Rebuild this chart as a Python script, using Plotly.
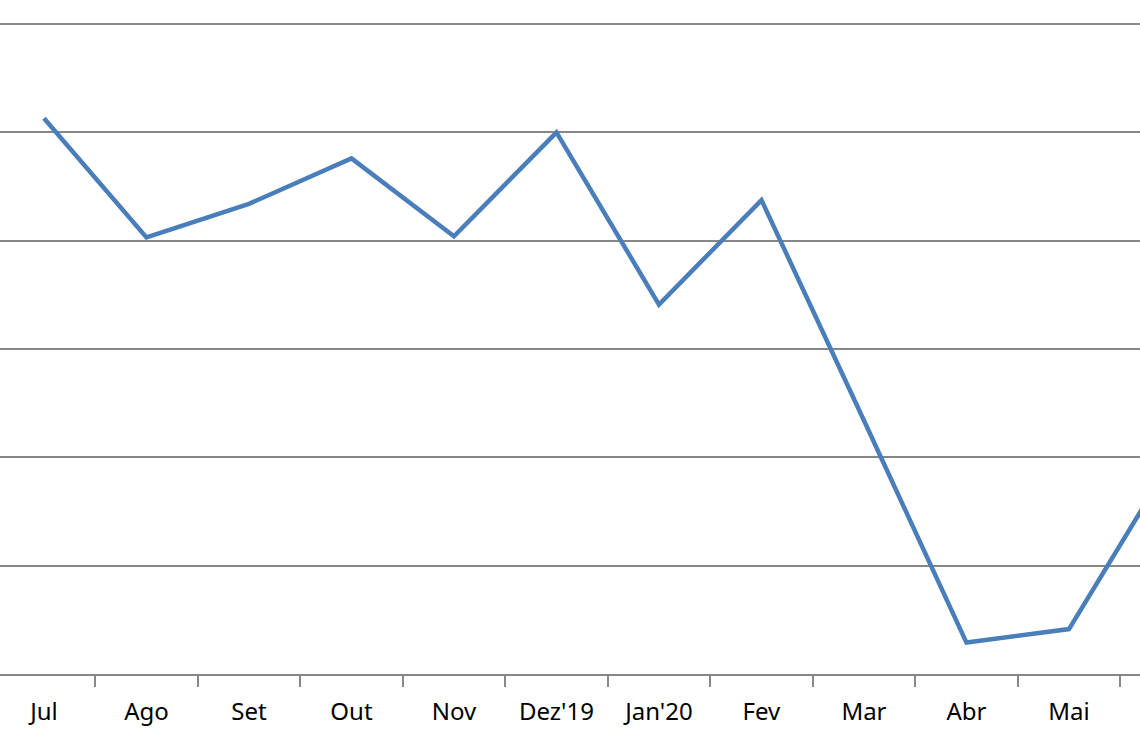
import plotly.graph_objects as go

months = ["Jul", "Ago", "Set", "Out", "Nov", "Dez'19", "Jan'20", "Fev", "Mar", "Abr", "Mai", "Jun"]
values = [5.13, 4.03, 4.34, 4.76, 4.04, 5.00, 3.41, 4.375, 2.34, 0.29, 0.415, 1.97]

fig = go.Figure()
fig.add_trace(go.Scatter(
    x=months, y=values, mode="lines",
    line=dict(color="#4a7ebb", width=4.5),
    cliponaxis=True, showlegend=False,
))

fig.update_layout(
    width=1140, height=742,
    margin=dict(l=0, r=0, t=0, b=68),
    paper_bgcolor="white", plot_bgcolor="white",
    font=dict(family="Noto Sans, Open Sans, sans-serif", size=24, color="black"),
    xaxis=dict(
        type="category", range=[-0.429, 10.693],
        showgrid=False, zeroline=False,
        showline=True, linecolor="#878787", linewidth=2,
        ticks="outside", tickson="boundaries", ticklen=11, tickwidth=2, tickcolor="#878787",
        ticklabelstandoff=15,
    ),
    yaxis=dict(
        range=[0, 6.222], dtick=1, tick0=0,
        showgrid=True, gridcolor="#878787", gridwidth=1.6,
        zeroline=False, showticklabels=False, showline=False,
    ),
)

fig.write_html(
    "out.html",
    config={"displayModeBar": False},
    post_script="document.body.style.margin='0';document.body.style.overflow='hidden';",
)
